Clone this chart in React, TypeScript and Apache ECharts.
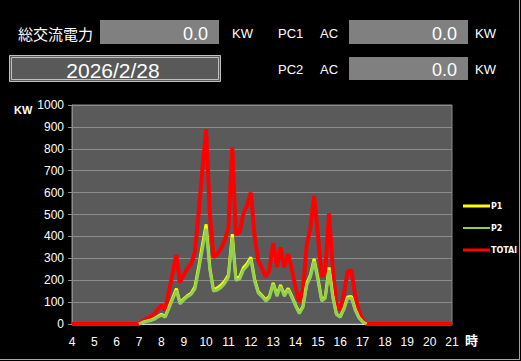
import React, { useEffect, useRef } from "react";
import * as echarts from "echarts";

// hour ticks on the x axis
const hourTicks = [4, 5, 6, 7, 8, 9, 10, 11, 12, 13, 14, 15, 16, 17, 18, 19, 20, 21];
const yTicks = [0, 100, 200, 300, 400, 500, 600, 700, 800, 900, 1000];

// sampling times (hours), 10-minute steps
const times = [
  7.0, 7.17, 7.33, 7.5, 7.67, 7.83, 8.0, 8.17, 8.33, 8.5, 8.67, 8.83,
  9.0, 9.17, 9.33, 9.5, 9.67, 9.83, 10.0, 10.17, 10.33, 10.5, 10.67, 10.83,
  11.0, 11.17, 11.33, 11.5, 11.67, 11.83, 12.0, 12.17, 12.33, 12.5, 12.67, 12.83,
  13.0, 13.17, 13.33, 13.5, 13.67, 13.83, 14.0, 14.17, 14.33, 14.5, 14.67, 14.83,
  15.0, 15.17, 15.33, 15.5, 15.67, 15.83, 16.0, 16.17, 16.33, 16.5, 16.67, 16.83,
  17.0, 17.17,
];

const total = [
  0, 15, 25, 32, 45, 65, 85, 65, 145, 230, 315, 190,
  225, 255, 275, 330, 510, 700, 890, 500, 305, 320, 345, 380,
  440, 805, 410, 420, 505, 540, 600, 400, 290, 255, 215, 245,
  370, 260, 350, 260, 320, 250, 170, 100, 155, 360, 440, 585,
  410, 215, 240, 505, 245, 90, 64, 140, 240, 245, 130, 60,
  20, 0,
];

const p1 = [
  0, 8, 13, 17, 24, 34, 45, 34, 75, 118, 162, 98,
  115, 130, 140, 170, 262, 360, 455, 255, 155, 165, 178, 195,
  225, 410, 210, 215, 258, 275, 305, 205, 148, 130, 110, 126,
  188, 133, 178, 133, 163, 128, 87, 52, 80, 184, 225, 298,
  210, 110, 123, 258, 126, 46, 33, 72, 123, 126, 67, 31,
  10, 0,
];

const p2 = [
  0, 7, 12, 15, 21, 31, 40, 31, 70, 112, 153, 92,
  110, 125, 135, 160, 248, 340, 435, 245, 150, 155, 167, 185,
  215, 395, 200, 205, 247, 265, 295, 195, 142, 125, 105, 119,
  182, 127, 172, 127, 157, 122, 83, 48, 75, 176, 215, 287,
  200, 105, 117, 247, 119, 44, 31, 68, 117, 119, 63, 29,
  10, 0,
];

const seriesNames = ["P1", "P2", "TOTAl"];

const FONT = "'Liberation Sans', Arial, sans-serif";
const JP = "'Noto Sans CJK JP', sans-serif";

const THICK = "path://M0,0L27,0L27,3L0,3Z";
const THIN = "path://M0,0L27,0L27,0.02L0,0.02Z M0,0.5L27,0.5L27,2.5L0,2.5Z M0,2.98L27,2.98L27,3L0,3Z";

export default function App() {
  const ref = useRef<HTMLDivElement>(null);
  useEffect(() => {
    if (!ref.current) return;
    const chart = echarts.init(ref.current, undefined, { renderer: "svg" });
    const pair = (arr: number[]) => arr.map((v, i) => [times[i], v]);
    const totalData = [[hourTicks[0], 0], ...pair(total), [hourTicks[hourTicks.length - 1], 0]];

    const white = "#ffffff";
    const box = "#808080";
    const icons = [THICK, THIN, THICK];

    chart.setOption({
      animation: false,
      backgroundColor: "#000000",
      grid: {
        left: 72,
        right: 69,
        top: 105,
        bottom: 37,
        show: true,
        backgroundColor: "#5a5a5a",
        borderColor: "#8c8c8c",
        borderWidth: 1,
      },
      xAxis: {
        type: "value",
        min: hourTicks[0],
        max: hourTicks[hourTicks.length - 1],
        interval: 1,
        axisLine: { show: true, lineStyle: { color: "#d9d9d9", width: 1 } },
        axisTick: { show: false },
        splitLine: { show: false },
        axisLabel: { color: white, fontSize: 12, fontFamily: FONT, margin: 12 },
      },
      yAxis: {
        type: "value",
        min: yTicks[0],
        max: yTicks[yTicks.length - 1],
        interval: 100,
        axisLine: { show: true, lineStyle: { color: "#8c8c8c" } },
        axisTick: { show: true, length: 4, lineStyle: { color: "#8c8c8c" } },
        splitLine: { show: true, lineStyle: { color: "#8c8c8c", width: 1 } },
        axisLabel: {
          color: white,
          fontSize: 12,
          fontFamily: FONT,
          margin: 8,
          formatter: (v: number) => String(v),
        },
      },
      legend: {
        orient: "vertical",
        left: 458,
        top: 196,
        itemWidth: 27,
        itemHeight: 3,
        itemGap: 12,
        data: seriesNames.map((n, i) => ({ name: n, icon: icons[i] })),
        textStyle: {
          color: white,
          fontSize: 8,
          lineHeight: 10,
          fontWeight: "bold",
          fontFamily: "'DejaVu Sans', sans-serif",
          padding: [0, 0, 0, -4],
        },
      },
      series: [
        {
          name: "TOTAl",
          type: "line",
          data: totalData,
          symbol: "none",
          lineStyle: { color: "#ff0000", width: 4 },
          itemStyle: { color: "#ff0000" },
          z: 1,
        },
        {
          name: "P1",
          type: "line",
          data: pair(p1),
          symbol: "none",
          lineStyle: { color: "#ffff00", width: 3 },
          itemStyle: { color: "#ffff00" },
          z: 2,
        },
        {
          name: "P2",
          type: "line",
          data: pair(p2),
          symbol: "none",
          lineStyle: { color: "#92d050", width: 3 },
          itemStyle: { color: "#92d050" },
          z: 3,
        },
      ],
      graphic: [
        // window frame lines (right & bottom)
        { type: "line", shape: { x1: 519.5, y1: 0, x2: 519.5, y2: 360 }, style: { stroke: "#a6a6a6", lineWidth: 1 } },
        { type: "line", shape: { x1: 0, y1: 359.5, x2: 520, y2: 359.5 }, style: { stroke: "#a6a6a6", lineWidth: 1 } },
        // axis names
        { type: "text", left: 14, top: 104, style: { text: "KW", fill: white, font: `bold 11px ${FONT}` } },
        { type: "text", left: 465, top: 333, style: { text: "時", fill: white, font: `bold 13px ${JP}` } },
        // row 1
        { type: "text", x: 18, y: 33, style: { text: "総交流電力", fill: white, font: `15px ${JP}`, textVerticalAlign: "middle" } },
        { type: "rect", shape: { x: 100, y: 20, width: 119, height: 24 }, style: { fill: box } },
        { type: "text", x: 208, y: 34, style: { text: "0.0", fill: white, font: `18px ${FONT}`, textAlign: "right", textVerticalAlign: "middle" } },
        { type: "text", x: 232, y: 33, style: { text: "KW", fill: white, font: `13px ${FONT}`, textVerticalAlign: "middle" } },
        { type: "text", x: 278, y: 33, style: { text: "PC1", fill: white, font: `13px ${FONT}`, textVerticalAlign: "middle" } },
        { type: "text", x: 320, y: 33, style: { text: "AC", fill: white, font: `13px ${FONT}`, textVerticalAlign: "middle" } },
        { type: "rect", shape: { x: 349, y: 20, width: 119, height: 24 }, style: { fill: box } },
        { type: "text", x: 457, y: 34, style: { text: "0.0", fill: white, font: `18px ${FONT}`, textAlign: "right", textVerticalAlign: "middle" } },
        { type: "text", x: 475, y: 33, style: { text: "KW", fill: white, font: `13px ${FONT}`, textVerticalAlign: "middle" } },
        // row 2
        { type: "rect", shape: { x: 9.5, y: 55.5, width: 211, height: 26 }, style: { fill: "#595959", stroke: "#c0c0c0", lineWidth: 1 } },
        { type: "rect", shape: { x: 11.5, y: 57.5, width: 207, height: 22 }, style: { fill: "none", stroke: "#c0c0c0", lineWidth: 1 } },
        { type: "text", x: 113, y: 70, style: { text: "2026/2/28", fill: white, font: `21px ${FONT}`, textAlign: "center", textVerticalAlign: "middle" } },
        { type: "text", x: 278, y: 69, style: { text: "PC2", fill: white, font: `13px ${FONT}`, textVerticalAlign: "middle" } },
        { type: "text", x: 320, y: 69, style: { text: "AC", fill: white, font: `13px ${FONT}`, textVerticalAlign: "middle" } },
        { type: "rect", shape: { x: 349, y: 57, width: 119, height: 23 }, style: { fill: box } },
        { type: "text", x: 457, y: 70, style: { text: "0.0", fill: white, font: `18px ${FONT}`, textAlign: "right", textVerticalAlign: "middle" } },
        { type: "text", x: 475, y: 69, style: { text: "KW", fill: white, font: `13px ${FONT}`, textVerticalAlign: "middle" } },
      ],
    });
    return () => chart.dispose();
  }, []);

  return (
    <div
      ref={ref}
      style={{ position: "fixed", left: 0, top: 0, width: 521, height: 361, background: "#000" }}
    />
  );
}
